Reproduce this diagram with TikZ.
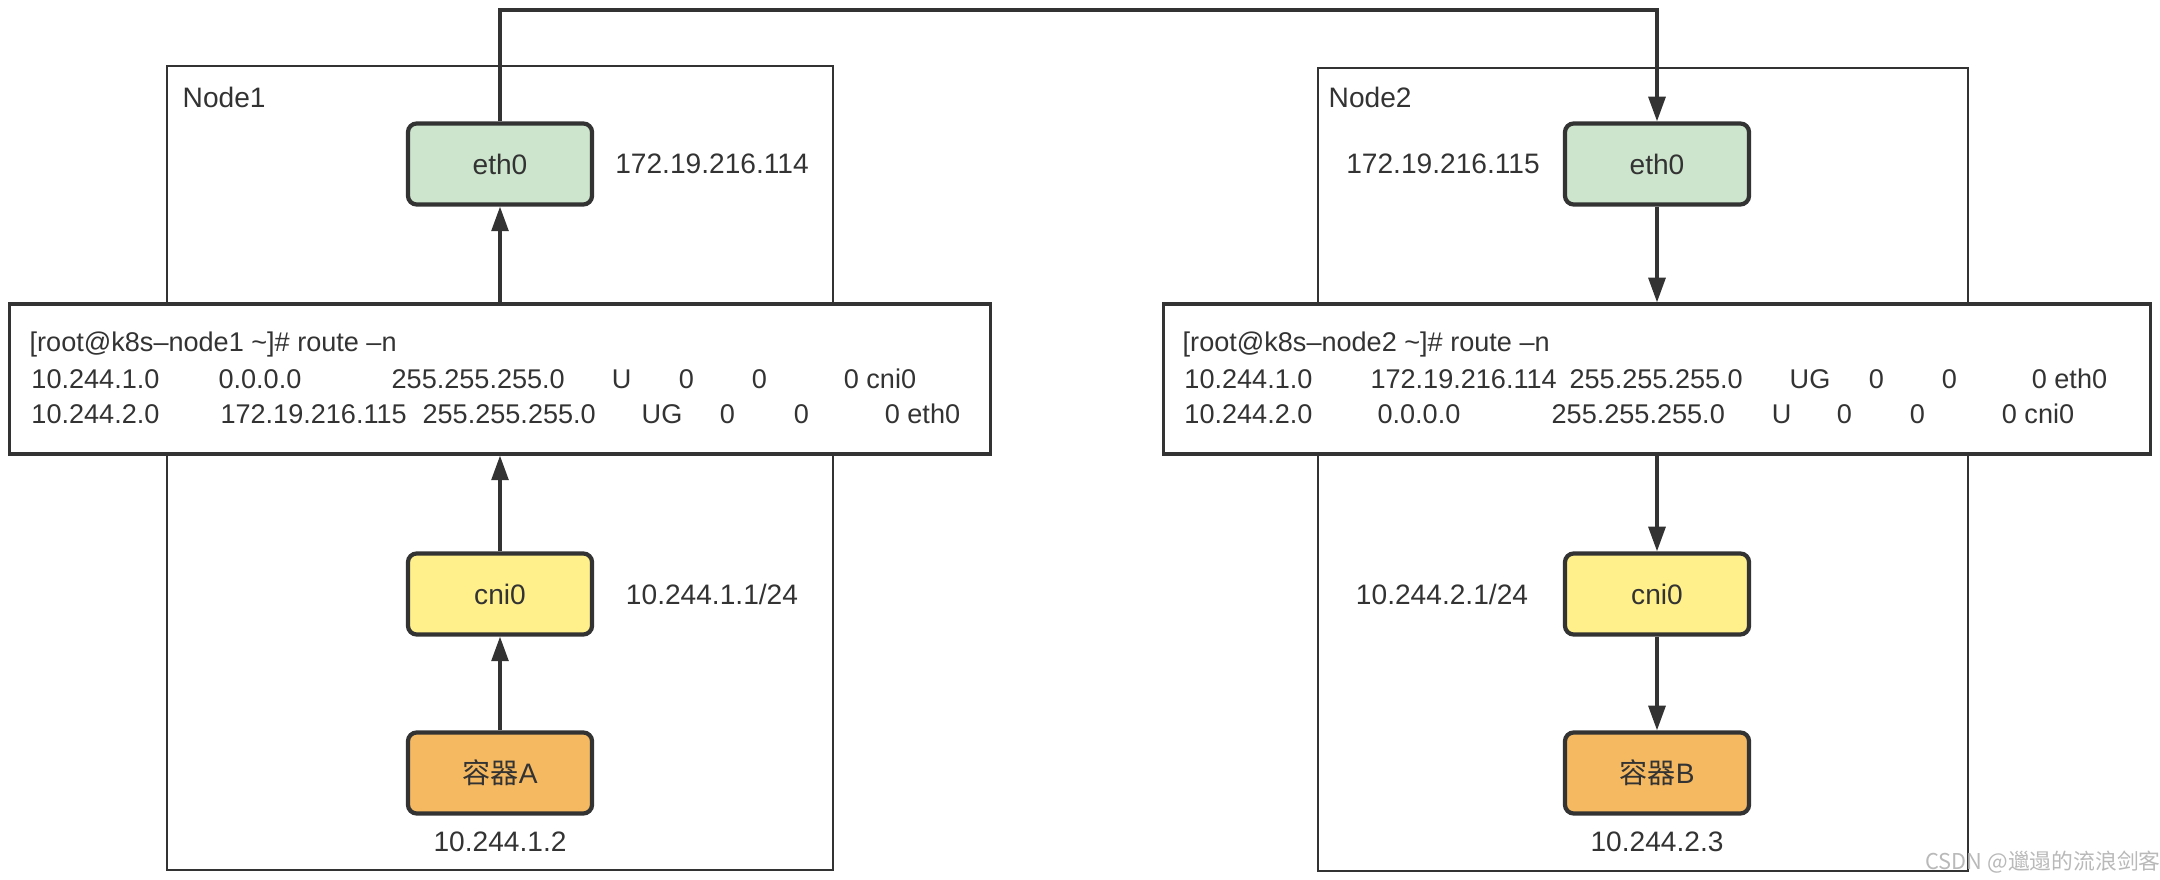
\documentclass[tikz,border=0pt]{standalone}
\usepackage{fontspec}
\setmainfont{Liberation Sans}
\newfontfamily\cjk{Noto Sans CJK SC}
\usepackage{xcolor}
\usepackage{tikz}
\usetikzlibrary{positioning,arrows.meta}
\definecolor{ink}{HTML}{333333}
\definecolor{ethgreen}{HTML}{CDE5CC}
\definecolor{cniyellow}{HTML}{FFF08B}
\definecolor{boxorange}{HTML}{F5B961}
% put a field at a fixed offset (cm) from the line start
\newcommand{\colat}[2]{\makebox[0pt][l]{\hspace*{#1cm}#2}}

\begin{document}
\begin{tikzpicture}[x=0.01cm, y=-0.01cm,
    >={Triangle[length=7pt,width=4.8pt]},
    every node/.style={text=ink, font=\fontsize{8}{10}\selectfont},
    iface/.style={draw=ink, line width=1.2pt, rounded corners=2.5pt, minimum width=1.84cm, minimum height=0.81cm},
    frame/.style={draw=ink, line width=0.8pt},
    route/.style={draw=ink, fill=white, line width=0.9pt, minimum height=1.5cm},
    rline/.style={anchor=west, inner sep=0pt, font=\fontsize{7.7}{10}\selectfont},
    link/.style={draw=ink, line width=0.95pt, ->}]
    \useasboundingbox (0,0) rectangle (2160,880);

    % Hosts
    \draw[frame] (167,66) rectangle (833,870);
    \draw[frame] (1318,68) rectangle (1968,871);
    \node[anchor=west, inner sep=0pt] (host1) at (182,97) {Node1};
    \node[anchor=west, inner sep=0pt] (host2) at (1328,97) {Node2};

    % Routing tables
    \node[route, minimum width=9.8cm] (rt1) at (500,379) {};
    \node[route, minimum width=9.86cm] (rt2) at (1657,379) {};

    \node[rline] (cmd1) at (29,345) {[root@k8s–node1 \textasciitilde]\# route –n};
    \node[rline] (r1a) at (29,379) {\colat{0}{10.244.1.0}\colat{1.87}{0.0.0.0}\colat{3.60}{255.255.255.0}\colat{5.80}{U}\colat{6.47}{0}\colat{7.20}{0}\colat{8.12}{0 cni0}};
    \node[rline] (r1b) at (29,414) {\colat{0}{10.244.2.0}\colat{1.89}{172.19.216.115}\colat{3.91}{255.255.255.0}\colat{6.10}{UG}\colat{6.88}{0}\colat{7.62}{0}\colat{8.53}{0 eth0}};

    \node[rline] (cmd2) at (1182,345) {[root@k8s–node2 \textasciitilde]\# route –n};
    \node[rline] (r2a) at (1182,379) {\colat{0}{10.244.1.0}\colat{1.86}{172.19.216.114}\colat{3.85}{255.255.255.0}\colat{6.05}{UG}\colat{6.84}{0}\colat{7.57}{0}\colat{8.47}{0 eth0}};
    \node[rline] (r2b) at (1182,414) {\colat{0}{10.244.2.0}\colat{1.93}{0.0.0.0}\colat{3.67}{255.255.255.0}\colat{5.87}{U}\colat{6.52}{0}\colat{7.25}{0}\colat{8.17}{0 cni0}};

    % Interfaces and containers
    \node[iface, fill=ethgreen] (eth1) at (500,164) {eth0};
    \node[iface, fill=cniyellow] (cni1) at (500,594) {cni0};
    \node[iface, fill=boxorange] (ctrA) at (500,773) {{\cjk 容器}A};
    \node[iface, fill=ethgreen] (eth2) at (1657,164) {eth0};
    \node[iface, fill=cniyellow] (cni2) at (1657,594) {cni0};
    \node[iface, fill=boxorange] (ctrB) at (1657,773) {{\cjk 容器}B};

    % Addresses
    \node (ip1) at (712,164) {172.19.216.114};
    \node (ip2) at (1443,164) {172.19.216.115};
    \node (br1) at (712,594) {10.244.1.1/24};
    \node (br2) at (1442,594) {10.244.2.1/24};
    \node (podA) at (500,842) {10.244.1.2};
    \node (podB) at (1657,842) {10.244.2.3};

    % Packet path
    \coordinate (wan) at (1078,10);
    \draw[link] (ctrA) -- (cni1);
    \draw[link] (cni1) -- (rt1);
    \draw[link] (rt1) -- (eth1);
    \draw[link] (eth1) |- (wan) -| (eth2);
    \draw[link] (eth2) -- (rt2);
    \draw[link] (rt2) -- (cni2);
    \draw[link] (cni2) -- (ctrB);

    \node[text=gray!55, font=\cjk\fontsize{6.2}{7}\selectfont] (mark) at (2043,862) {CSDN @邋遢的流浪剑客};
\end{tikzpicture}
\end{document}
